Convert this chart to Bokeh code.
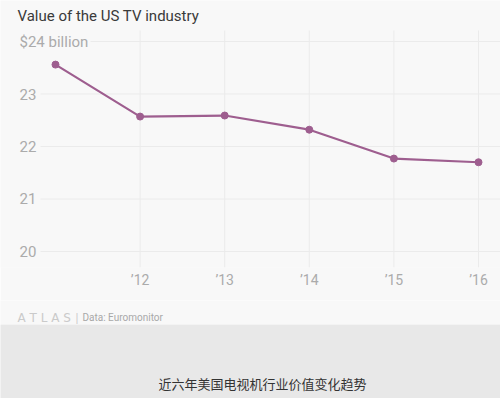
from bokeh.plotting import figure
from bokeh.models import Label, FixedTicker, ColumnDataSource
from bokeh.layouts import column
from bokeh.core.properties import value
from bokeh.embed import file_html
from bokeh.resources import INLINE

# ---- data ----
years = [2011, 2012, 2013, 2014, 2015, 2016]
tv_value = [23.56, 22.57, 22.59, 22.32, 21.77, 21.70]
x_ticks = [2012, 2013, 2014, 2015, 2016]
x_tick_labels = ["\u201912", "\u201913", "\u201914", "\u201915", "\u201916"]
y_ticks = [24, 23, 22, 21, 20]
y_tick_labels = ["$24 billion", "23", "22", "21", "20"]
title_text = "Value of the US TV industry"
source_text = "Data: Euromonitor"
caption_text = "近六年美国电视机行业价值变化趋势"

# ---- styles ----
W = 500
BG = "#f8f8f8"
BAND = "#e8e8e8"
GRID = "#ebebeb"
LINE = "#9e5e8f"
TICK = "#ababab"
FONT = "Roboto"

x0, x1 = 2010.3499, 2016.2600
y0, y1 = 19.6952, 24.7810

p = figure(width=W, height=300, output_backend="svg", toolbar_location=None,
           x_range=(x0, x1), y_range=(y0, y1),
           min_border_left=0, min_border_right=0, min_border_top=0, min_border_bottom=33)
p.background_fill_color = BG
p.border_fill_color = BG
p.outline_line_color = None
p.grid.visible = False
p.yaxis.visible = False

ax = p.xaxis[0]
ax.ticker = FixedTicker(ticks=x_ticks)
ax.major_label_overrides = {t: l for t, l in zip(x_ticks, x_tick_labels)}
ax.axis_line_color = None
ax.major_tick_line_color = None
ax.minor_tick_line_color = None
ax.major_tick_out = 0
ax.major_tick_in = 0
ax.minor_tick_out = 0
ax.major_label_text_color = TICK
ax.major_label_text_font = FONT
ax.major_label_text_font_size = "14px"
ax.major_label_standoff = 4

# horizontal gridlines
h_start = [2011.4137 if t == 24 else 2010.8227 for t in y_ticks]
p.segment(x0=h_start, y0=y_ticks, x1=[x1] * len(y_ticks), y1=y_ticks,
          line_color=GRID, line_width=1)
# vertical gridlines
p.segment(x0=x_ticks, y0=[24.2095] * len(x_ticks), x1=x_ticks, y1=[y0] * len(x_ticks),
          line_color=GRID, line_width=1)

# y tick labels
p.text(x=[2010.5745] * len(y_ticks), y=y_ticks, text=y_tick_labels,
       text_font=value(FONT), text_font_size="15px", text_color=TICK,
       text_align="left", text_baseline="middle")

# data line
src = ColumnDataSource(dict(x=years, y=tv_value))
p.line("x", "y", source=src, line_color=LINE, line_width=2.2)
p.scatter("x", "y", source=src, size=7, fill_color=LINE, line_color=LINE)

# title
p.add_layout(Label(x=2010.5508, y=24.4952, text=title_text, text_font=FONT,
                   text_font_size="15px", text_color="#3a3a3a",
                   text_baseline="middle", text_align="left"))

# source line
s = figure(width=W, height=24, output_backend="svg", toolbar_location=None,
           x_range=(0, W), y_range=(24, 0), min_border=0)
s.background_fill_color = BG
s.border_fill_color = BG
s.outline_line_color = None
s.axis.visible = False
s.grid.visible = False
s.text(x=[17], y=[17], text=["A T L A S"], text_font=value("DejaVu Sans"),
       text_font_size="12px", text_color="#cacaca", text_align="left",
       text_baseline="middle")
s.text(x=[75], y=[17], text=["|"], text_font=value(FONT), text_font_size="12px",
       text_color="#cccccc", text_align="left", text_baseline="middle")
s.text(x=[82], y=[17], text=[source_text], text_font=value(FONT),
       text_font_size="10px", text_color="#a8a8a8", text_align="left",
       text_baseline="middle")

# caption band
c = figure(width=W, height=74, output_backend="svg", toolbar_location=None,
           x_range=(0, W), y_range=(74, 0), min_border=0)
c.background_fill_color = BAND
c.border_fill_color = BAND
c.outline_line_color = None
c.axis.visible = False
c.grid.visible = False
c.text(x=[262], y=[59], text=[caption_text], text_font=value("Noto Sans CJK SC"),
       text_font_size="13px", text_color="#333333", text_align="center",
       text_baseline="middle")

layout = column(p, s, c, spacing=0)
open("out.html", "w").write(file_html(layout, INLINE))
